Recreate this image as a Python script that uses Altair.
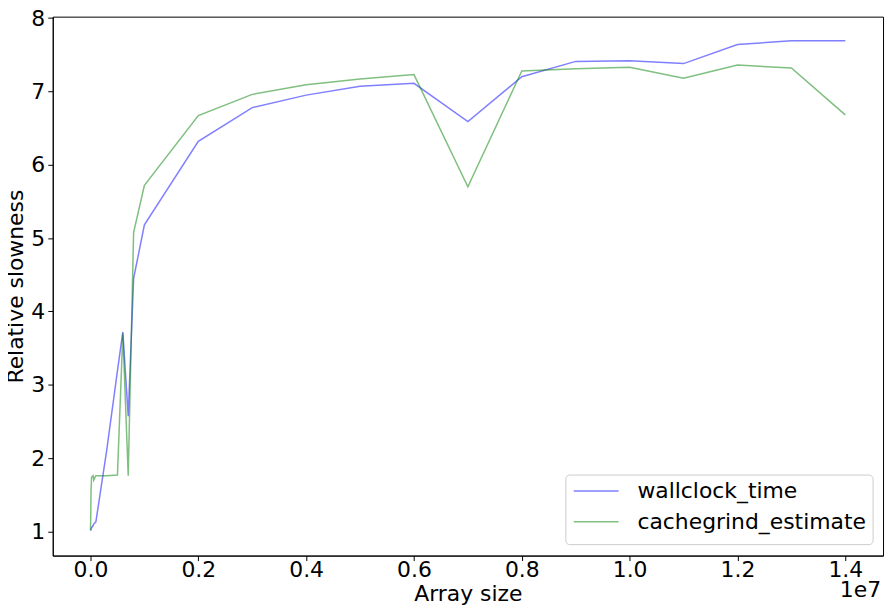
import altair as alt
import pandas as pd

sizes = [1e3, 1e4, 2e4, 5e4, 6e4, 1e5, 3e5, 5e5, 6e5, 7e5, 8e5, 1e6,
         2e6, 3e6, 4e6, 5e6, 6e6, 7e6, 8e6, 9e6, 10e6, 11e6, 12e6, 13e6, 14e6]
wallclock_time = [1.01, 1.03, 1.05, 1.08, 1.10, 1.13, 2.10, 3.19, 3.72, 2.57, 4.45, 5.18,
                  6.32, 6.78, 6.95, 7.07, 7.11, 6.59, 7.20, 7.41, 7.42, 7.38, 7.64, 7.69, 7.69]
cachegrind_estimate = [1.02, 1.55, 1.74, 1.76, 1.70, 1.76, 1.76, 1.77, 3.70, 1.76, 5.08, 5.72,
                       6.67, 6.96, 7.09, 7.17, 7.23, 5.70, 7.28, 7.31, 7.33, 7.18, 7.36, 7.32, 6.68]
series = ["wallclock_time", "cachegrind_estimate"]
colors = ["#0000ff", "#008000"]
x_ticks = [0, 2e6, 4e6, 6e6, 8e6, 10e6, 12e6, 14e6]
y_ticks = [1, 2, 3, 4, 5, 6, 7, 8]

rows = []
for i, s in enumerate(sizes):
    rows.append({"size": s, "value": wallclock_time[i], "series": series[0], "o": 0})
for i, s in enumerate(sizes):
    rows.append({"size": s, "value": cachegrind_estimate[i], "series": series[1], "o": 1})
df = pd.DataFrame(rows)

FONT = "DejaVu Sans"
FS = 22
W, H = 835, 542

lines = alt.Chart(df).mark_line(strokeWidth=1.5, opacity=0.5).encode(
    x=alt.X("size:Q",
            scale=alt.Scale(domain=[-0.7e6, 14.7e6], nice=False, zero=False),
            axis=alt.Axis(values=x_ticks, labelExpr="format(datum.value/1e7, '.1f')",
                          title="Array size", grid=False, tickSize=5, labelPadding=-1,
                          titlePadding=3, labelFlush=False)),
    y=alt.Y("value:Q",
            scale=alt.Scale(domain=[0.67, 8.02], nice=False, zero=False),
            axis=alt.Axis(values=y_ticks, format="d", title="Relative slowness",
                          grid=False, tickSize=5, labelPadding=3, titlePadding=3)),
    color=alt.Color("series:N", scale=alt.Scale(domain=series, range=colors), legend=None),
    detail="series:N",
    order="o:Q",
)

# legend (annotation, matplotlib-style box in the lower right)
LX, LY, LW, LH = 516, 461, 309, 70
box = alt.Chart(pd.DataFrame({"k": [0]})).mark_rect(
    fill="white", fillOpacity=0.8, stroke="#cccccc", strokeWidth=1, cornerRadius=4
).encode(x=alt.value(LX), x2=alt.value(LX + LW), y=alt.value(LY), y2=alt.value(LY + LH))

legend_layers = [box]
for i, (name, col) in enumerate(zip(series, colors)):
    yy = LY + 16 + 31 * i
    legend_layers.append(
        alt.Chart(pd.DataFrame({"k": [i]})).mark_rule(
            color=col, opacity=0.5, strokeWidth=1.5
        ).encode(x=alt.value(LX + 8), x2=alt.value(LX + 53), y=alt.value(yy))
    )
    legend_layers.append(
        alt.Chart(pd.DataFrame({"t": [name]})).mark_text(
            align="left", baseline="middle", fontSize=FS, font=FONT, color="black"
        ).encode(text="t:N", x=alt.value(LX + 72), y=alt.value(yy))
    )

offset = alt.Chart(pd.DataFrame({"t": ["1e7"]})).mark_text(
    align="right", baseline="alphabetic", fontSize=FS, font=FONT, color="black"
).encode(text="t:N", x=alt.value(W - 2), y=alt.value(H + 42))

chart = alt.layer(lines, *legend_layers, offset).properties(
    width=W, height=H,
    autosize=alt.AutoSizeParams(type="none"),
    padding={"left": 45, "top": 7, "right": 5, "bottom": 50},
).configure_view(stroke="black", strokeWidth=1).configure_axis(
    domainColor="black", tickColor="black", labelColor="black", titleColor="black",
    labelFont=FONT, titleFont=FONT, labelFontSize=FS, titleFontSize=FS,
    titleFontWeight="normal", domainWidth=1, tickWidth=1,
)

chart.save("out.html", embed_options={"renderer": "svg", "actions": False})
